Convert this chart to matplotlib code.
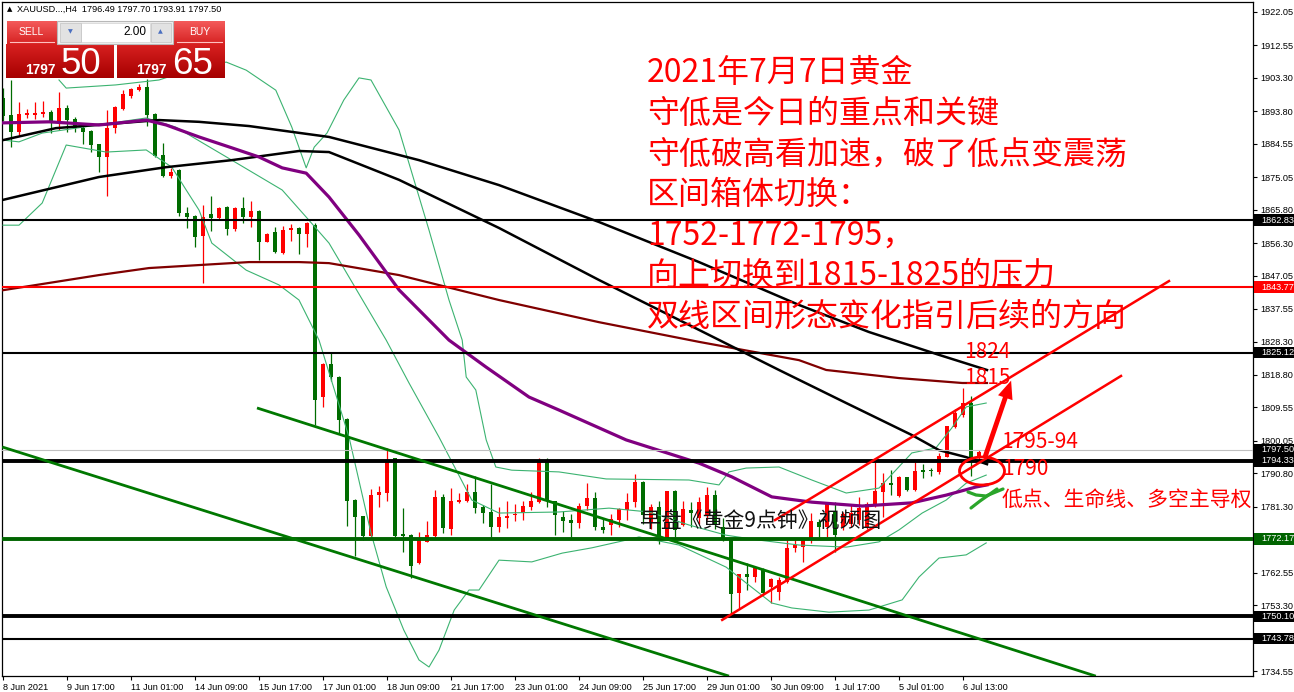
import numpy as np
import matplotlib
matplotlib.use("Agg")
import matplotlib.pyplot as plt
import matplotlib.colors as mcolors
from matplotlib.patches import Rectangle, Ellipse, FancyArrowPatch
from matplotlib.transforms import blended_transform_factory

# ---------------- data (XAUUSD H4) ----------------
opens = [1897.5, 1892.75, 1888.0, 1892.75, 1892.6, 1893.0, 1893.6, 1890.6, 1894.7, 1891.6,
         1889.1, 1888.3, 1884.5, 1880.9, 1889.0, 1894.5, 1898.2, 1899.9, 1900.6, 1893.0,
         1881.4, 1875.4, 1877.1, 1865.0, 1864.0, 1858.4, 1864.5, 1863.4, 1866.7, 1860.4,
         1866.4, 1863.8, 1865.4, 1856.7, 1859.4, 1853.6, 1860.0, 1860.5, 1858.9, 1861.4,
         1812.4, 1821.9, 1818.3, 1806.3, 1783.2, 1778.7, 1773.1, 1784.5, 1785.3, 1795.1,
         1773.3, 1773.3, 1765.4, 1771.4, 1773.1, 1784.2, 1775.0, 1782.7, 1782.8, 1785.5,
         1781.3, 1779.9, 1775.6, 1778.2, 1778.9, 1779.4, 1781.3, 1782.5, 1794.1, 1782.8,
         1778.5, 1777.5, 1776.6, 1781.6, 1783.8, 1775.4, 1776.0, 1777.5, 1780.4, 1782.5,
         1788.4, 1777.0, 1781.3, 1771.9, 1785.8, 1776.1, 1780.4, 1778.0, 1779.0, 1784.5,
         1775.5, 1772.1, 1756.7, 1762.2, 1761.4, 1763.5, 1758.6, 1757.1, 1760.0, 1769.5,
         1769.8, 1771.7, 1777.05, 1775.6, 1779.9, 1775.6, 1776.5, 1777.5, 1775.6, 1781.8,
         1785.6, 1788.0, 1784.4, 1789.7, 1786.1, 1791.8, 1791.8, 1791.3, 1795.5, 1804.1,
         1807.4, 1810.7, 1795.5, 1796.49]
highs = [1900.5, 1902.7, 1896.35, 1894.4, 1896.3, 1896.6, 1894.2, 1899.3, 1895.5, 1892.3,
         1889.6, 1888.4, 1884.6, 1894.2, 1895.3, 1899.9, 1900.5, 1901.5, 1903.0, 1893.2,
         1884.7, 1877.6, 1877.5, 1866.5, 1864.2, 1867.0, 1869.8, 1866.7, 1866.8, 1866.7,
         1869.4, 1868.3, 1865.7, 1859.3, 1861.0, 1861.3, 1861.7, 1860.8, 1862.4, 1862.0,
         1822.1, 1825.0, 1818.5, 1806.4, 1783.4, 1778.8, 1786.3, 1787.2, 1797.9, 1795.2,
         1780.9, 1773.4, 1774.0, 1777.1, 1786.1, 1784.9, 1786.5, 1785.1, 1787.8, 1789.9,
         1781.8, 1787.8, 1781.3, 1783.0, 1782.1, 1783.0, 1785.6, 1795.1, 1795.1, 1783.0,
         1780.2, 1779.2, 1782.3, 1788.0, 1785.4, 1778.0, 1779.2, 1780.9, 1785.1, 1790.6,
         1788.6, 1782.0, 1783.0, 1785.8, 1786.0, 1783.0, 1782.7, 1784.0, 1787.0, 1786.0,
         1778.0, 1772.5, 1762.2, 1765.2, 1764.3, 1763.8, 1760.9, 1761.4, 1771.8, 1771.8,
         1772.3, 1779.4, 1777.7, 1782.7, 1782.7, 1779.9, 1782.0, 1784.0, 1782.7, 1794.1,
         1790.8, 1791.8, 1789.9, 1789.8, 1794.1, 1793.5, 1792.2, 1796.5, 1804.3, 1809.0,
         1815.0, 1812.8, 1797.4, 1797.70]
lows = [1891.0, 1883.7, 1887.1, 1892.0, 1891.5, 1892.3, 1887.5, 1888.5, 1888.0, 1888.0,
        1884.5, 1882.3, 1876.6, 1869.8, 1887.7, 1894.2, 1897.5, 1899.6, 1889.6, 1880.9,
        1875.2, 1874.7, 1864.0, 1860.5, 1855.3, 1845.0, 1859.8, 1863.2, 1858.6, 1859.6,
        1861.9, 1861.0, 1851.5, 1856.5, 1853.4, 1853.1, 1856.9, 1853.1, 1855.1, 1804.5,
        1809.8, 1817.2, 1802.4, 1775.9, 1767.3, 1771.8, 1772.8, 1781.3, 1782.8, 1772.8,
        1768.5, 1760.9, 1765.0, 1771.2, 1772.8, 1773.7, 1773.3, 1782.3, 1782.5, 1779.4,
        1776.6, 1772.8, 1774.2, 1775.2, 1777.1, 1777.5, 1780.4, 1782.3, 1781.3, 1773.3,
        1774.2, 1772.8, 1775.2, 1780.4, 1774.7, 1773.7, 1773.3, 1775.6, 1777.5, 1781.3,
        1776.5, 1775.0, 1770.6, 1771.9, 1772.8, 1775.8, 1775.6, 1776.5, 1777.5, 1775.0,
        1771.5, 1750.4, 1752.4, 1757.6, 1760.0, 1756.2, 1753.8, 1754.8, 1759.5, 1768.5,
        1765.7, 1771.1, 1772.8, 1772.8, 1768.5, 1774.7, 1775.5, 1776.0, 1774.9, 1781.3,
        1778.5, 1784.6, 1784.2, 1785.9, 1785.9, 1789.4, 1790.0, 1790.6, 1795.4, 1803.6,
        1806.9, 1789.9, 1793.6, 1793.91]
closes = [1892.5, 1888.0, 1893.0, 1893.2, 1893.3, 1893.6, 1890.4, 1894.7, 1891.3, 1889.0,
          1887.9, 1884.2, 1880.9, 1889.0, 1895.1, 1898.7, 1900.1, 1900.8, 1892.75, 1881.2,
          1875.4, 1876.5, 1864.8, 1863.8, 1858.1, 1863.8, 1863.4, 1866.4, 1860.4, 1866.4,
          1863.6, 1865.4, 1856.7, 1858.9, 1853.9, 1860.0, 1860.5, 1858.9, 1861.9, 1811.7,
          1821.9, 1818.3, 1806.0, 1783.0, 1778.5, 1773.1, 1784.6, 1785.5, 1794.1, 1773.1,
          1773.1, 1764.5, 1771.7, 1773.3, 1784.2, 1775.2, 1782.9, 1783.2, 1785.6, 1781.0,
          1779.6, 1775.6, 1778.5, 1778.8, 1779.3, 1781.6, 1782.8, 1794.1, 1782.8, 1778.9,
          1777.3, 1776.6, 1781.5, 1783.8, 1775.4, 1774.7, 1777.8, 1780.6, 1782.7, 1788.4,
          1779.0, 1781.3, 1772.8, 1785.8, 1774.7, 1780.6, 1779.6, 1782.5, 1784.5, 1776.5,
          1772.3, 1756.5, 1762.2, 1761.2, 1763.8, 1756.7, 1760.7, 1760.5, 1769.5, 1770.4,
          1771.7, 1777.1, 1775.6, 1782.3, 1773.3, 1779.2, 1779.5, 1781.0, 1782.1, 1785.8,
          1788.1, 1787.5, 1789.7, 1786.1, 1791.5, 1791.3, 1791.5, 1795.7, 1804.3, 1807.9,
          1810.7, 1795.1, 1796.9, 1797.50]

# Bottom axis labels (every 8 bars)
xtick_bars = [0, 8, 16, 24, 32, 40, 48, 56, 64, 72, 80, 88, 96, 104, 112, 120]
xtick_labels = ["8 Jun 2021", "9 Jun 17:00", "11 Jun 01:00", "14 Jun 09:00", "15 Jun 17:00",
                "17 Jun 01:00", "18 Jun 09:00", "21 Jun 17:00", "23 Jun 01:00", "24 Jun 09:00",
                "25 Jun 17:00", "29 Jun 01:00", "30 Jun 09:00", "1 Jul 17:00", "5 Jul 01:00",
                "6 Jul 13:00"]
# Right axis price scale
ytick_vals = [1922.05, 1912.55, 1903.30, 1893.80, 1884.55, 1875.05, 1865.80, 1856.30, 1847.05,
              1837.55, 1828.30, 1818.80, 1809.55, 1800.05, 1790.80, 1781.30, 1762.55, 1753.30,
              1734.55]

# Indicator lines sampled from the chart (bar index, price)
bb_up_x = [7, 7.9, 14.1, 19.5, 23.25, 27.9, 30.4, 34.1, 36.1, 37.9, 38.9, 40.5, 42.6, 44.5, 46,
           49.5, 53.25, 55.75, 57.4, 57.9, 59.1, 60.4, 61.6, 63.6, 69.5, 75.4, 85.75, 89.5,
           90.75, 92.9, 97, 101.1, 105.4, 109.5, 111.6, 113.6, 116.6, 118.6, 120.4, 122.9]
bb_up_y = [1902.7, 1900.4, 1901.3, 1902.7, 1905.5, 1907.8, 1905.5, 1899.8, 1889.3, 1877.7,
           1883.6, 1887.6, 1897.0, 1903.3, 1902.7, 1888.5, 1860.0, 1840.1, 1828.7, 1818.2,
           1814.5, 1800.3, 1792.6, 1791.7, 1791.2, 1789.2, 1788.9, 1787.5, 1791.2, 1792.3,
           1792.6, 1788.9, 1785.2, 1786.6, 1791.7, 1796.6, 1798.0, 1803.7, 1809.7, 1810.8]
bb_mid_x = [0, 2, 4.9, 17.9, 21.6, 28.6, 34.9, 37.9, 40.75, 47.9, 50.75, 54.5, 58.6, 62, 69.5,
            75.75, 80.75, 85.75, 90.4, 94.5, 99.5, 105.4, 109.5, 112, 114.9, 117.9, 120.4, 122.9]
bb_mid_y = [1885.6, 1885.1, 1887.6, 1891.9, 1889.3, 1879.9, 1871.4, 1863.7, 1856.3, 1828.7,
            1816.5, 1801.1, 1783.2, 1779.5, 1779.8, 1780.9, 1779.8, 1776.1, 1773.2, 1771.8,
            1770.4, 1769.8, 1771.3, 1774.7, 1779.5, 1783.2, 1788.0, 1790.3]
bb_low_x = [0, 2, 4.9, 7.9, 12.9, 17.9, 21.1, 22.9, 24.5, 26.1, 30.4, 34.5, 37, 39.5, 43.25, 46,
            47.9, 50.1, 52, 53.25, 54.5, 56.4, 58.25, 59.5, 62, 66.1, 69.9, 73.6, 77.9, 79.5,
            84.5, 90.4, 92.9, 96.1, 98.6, 103.25, 108.25, 112.4, 114.5, 117, 120.4, 122.9]
bb_low_y = [1861.4, 1861.4, 1867.7, 1884.2, 1882.2, 1882.8, 1877.9, 1871.4, 1865.7, 1856.3,
            1848.6, 1844.4, 1840.1, 1828.7, 1801.1, 1773.8, 1758.5, 1746.2, 1737.7, 1735.7,
            1740.5, 1751.9, 1757.6, 1757.6, 1766.1, 1765.6, 1768.1, 1769.6, 1771.8, 1772.7,
            1770.4, 1764.1, 1759.6, 1753.9, 1752.5, 1751.3, 1751.9, 1754.8, 1761.3, 1766.7,
            1767.6, 1771.0]
ma_purple_x = [0, 5.75, 12, 17.9, 20.4, 24.5, 28.6, 32, 34.9, 37.9, 40.75, 44.5, 49.5, 55.75,
               60.4, 65.75, 69.5, 77.9, 87, 91.1, 96.1, 101.1, 107.4, 113.6, 117.9, 121.6, 123]
ma_purple_y = [1890.5, 1890.8, 1889.9, 1891.3, 1889.9, 1886.5, 1883.4, 1880.8, 1877.7, 1876.2,
               1869.4, 1858.6, 1843.0, 1828.7, 1821.0, 1812.5, 1808.8, 1800.3, 1793.7, 1789.8,
               1784.1, 1782.6, 1781.5, 1782.4, 1784.6, 1786.9, 1787.5]
ma_black1_x = [0, 6.6, 19.5, 24.5, 30.75, 40.75, 52, 62, 74.5, 87, 99.5, 108.25, 117, 123]
ma_black1_y = [1885.6, 1889.0, 1891.3, 1890.8, 1889.6, 1886.5, 1879.9, 1872.8, 1862.3, 1850.9,
               1838.7, 1831.0, 1824.5, 1820.2]
ma_black2_x = [0, 12, 20.4, 28.6, 37, 40.75, 49.5, 62, 74.5, 87, 97, 105.4, 113.6, 117, 120.4, 123]
ma_black2_y = [1868.6, 1875.1, 1877.9, 1879.9, 1882.5, 1882.2, 1874.3, 1860.6, 1845.8, 1831.6,
               1820.2, 1810.8, 1801.7, 1797.4, 1795.4, 1793.4]
ma_maroon_x = [0, 12, 18.25, 30.75, 37, 40.75, 49.5, 62, 74.5, 87, 99.5, 102.9, 112, 119.9, 123]
ma_maroon_y = [1842.9, 1847.2, 1849.2, 1850.9, 1850.9, 1850.6, 1847.2, 1840.1, 1833.8, 1828.2,
               1823.0, 1820.2, 1817.9, 1816.5, 1816.5]

# Horizontal levels (price, colour key, width key)
hlevels = [1862.83, 1843.77, 1825.12, 1794.33, 1772.17, 1750.10, 1743.78]
current_price = 1797.50

# Trend lines (anchor bars / prices)
red_up_x, red_up_y = [96.5, 145.75], [1777.5, 1845.5]
red_lo_x, red_lo_y = [89.9, 139.75], [1749.1, 1818.5]
green_a_x, green_a_y = [31.75, 136.6], [1809.4, 1733.1]
green_b_x, green_b_y = [-0.1, 90.75], [1798.3, 1733.1]

text_lines = ["2021年7月7日黄金", "守低是今日的重点和关键", "守低破高看加速，破了低点变震荡",
              "区间箱体切换：", "1752-1772-1795，", "向上切换到1815-1825的压力",
              "双线区间形态变化指引后续的方向"]

# ---------------- drawing ----------------
W, H = 1294, 692
RED = "#ff0000"
GRN = "#006c00"
CJK = ["Noto Sans CJK SC", "DejaVu Sans"]
LIB = ["Liberation Sans", "DejaVu Sans"]

fig = plt.figure(figsize=(W / 100, H / 100), dpi=100)
fig.patch.set_facecolor("white")
ax = fig.add_axes([2 / W, 16 / H, 1251 / W, 674 / H])
ax.set_xlim(-0.125, 156.25)
ax.set_ylim(1733.14, 1924.89)

o = np.array(opens); h = np.array(highs); l = np.array(lows); c = np.array(closes)
idx = np.arange(len(o))
cols = np.where(c >= o, RED, GRN)
ax.vlines(idx, l, h, colors=cols, lw=0.9, zorder=2)
ax.bar(idx, np.maximum(np.abs(c - o), 0.3), bottom=np.minimum(o, c), width=0.62,
       color=cols, lw=0, zorder=2)

bbc = "#3cb371"
for xs, ys in [(bb_up_x, bb_up_y), (bb_mid_x, bb_mid_y), (bb_low_x, bb_low_y)]:
    ax.plot(xs, ys, color=bbc, lw=0.8, zorder=3)
ax.plot(ma_maroon_x, ma_maroon_y, color="#800000", lw=1.6, zorder=3)
ax.plot(ma_black1_x, ma_black1_y, color="black", lw=1.8, zorder=3)
ax.plot(ma_black2_x, ma_black2_y, color="black", lw=1.8, zorder=3)
ax.plot(ma_purple_x, ma_purple_y, color="#800080", lw=2.3, zorder=3)

ax.axhline(current_price, color="#c0c0c0", lw=0.8, zorder=3)
hl_style = {1862.83: ("black", 1.5), 1843.77: ("#ff0000", 1.5), 1825.12: ("black", 1.5),
            1794.33: ("black", 2.8), 1772.17: ("#006400", 2.8), 1750.10: ("black", 2.8),
            1743.78: ("black", 1.5)}
for p in hlevels:
    col, lw = hl_style[p]
    ax.axhline(p, color=col, lw=lw, zorder=4)

ax.plot(green_a_x, green_a_y, color="#007800", lw=2.0, zorder=4, solid_capstyle="butt")
ax.plot(green_b_x, green_b_y, color="#007800", lw=2.0, zorder=4, solid_capstyle="butt")
ax.plot(red_up_x, red_up_y, color=RED, lw=1.8, zorder=4)
ax.plot(red_lo_x, red_lo_y, color=RED, lw=1.8, zorder=4)

# axes styling
for s in ax.spines.values():
    s.set_color("black"); s.set_linewidth(0.9)
ax.yaxis.tick_right()
ax.set_yticks(ytick_vals)
ax.set_yticklabels([f"{v:.2f}" for v in ytick_vals], fontsize=6.6, family=LIB)
ax.tick_params(axis="y", length=3, width=0.8, pad=2.5, direction="out")
ax.set_xticks(xtick_bars)
ax.set_xticklabels(xtick_labels, fontsize=6.6, family=LIB, ha="left")
ax.tick_params(axis="x", length=3, width=0.8, pad=2, direction="out")

# price label boxes on the right axis
btr = blended_transform_factory(ax.transAxes, ax.transData)
box_bg = {1862.83: "black", 1843.77: "#ff0000", 1825.12: "black", 1797.50: "black",
          1794.33: "black", 1772.17: "#006400", 1750.10: "black", 1743.78: "black"}
for p in [1862.83, 1843.77, 1825.12, 1797.50, 1794.33, 1772.17, 1750.10, 1743.78]:
    bh = 11.5 / 3.515
    ax.add_patch(Rectangle((1.0 + 1 / 1251, p - bh / 2), 41 / 1251, bh, transform=btr,
                           facecolor=box_bg[p], edgecolor="none", clip_on=False, zorder=6))
    ax.text(1.0 + 8 / 1251, p, f"{p:.2f}", transform=btr, fontsize=6.6, family=LIB,
            color="white", va="center", ha="left", clip_on=False, zorder=7)

# ---------------- overlay (pixel coordinates) ----------------
ov = fig.add_axes([0, 0, 1, 1], zorder=10)
ov.patch.set_alpha(0)
ov.axis("off")


def grad_rect(x0, y0, x1, y1, ctop, cbot, z=11):
    t = np.array(mcolors.to_rgb(ctop)); b = np.array(mcolors.to_rgb(cbot))
    g = np.linspace(0, 1, 40)[:, None]
    img = (t[None, :] * (1 - g) + b[None, :] * g)[:, None, :]
    ov.imshow(img, extent=[x0, x1, y1, y0], aspect="auto", zorder=z,
              interpolation="bilinear", origin="upper")


# header line
ov.text(7, 9, "▲", fontsize=5, family=["DejaVu Sans"], va="center", ha="left")
ov.text(17, 9, "XAUUSD...,H4  1796.49 1797.70 1793.91 1797.50", fontsize=6.6,
        family=LIB, va="center", ha="left")

# one-click trading panel
grad_rect(7, 21, 57, 44, "#f45a5a", "#d62222")
grad_rect(174, 21, 225, 44, "#f45a5a", "#d62222")
grad_rect(6, 44.5, 114, 78, "#d82020", "#a60000")
grad_rect(117, 44.5, 225, 78, "#d82020", "#a60000")
ov.plot([10, 54], [42.3, 42.3], color="#ffc0c0", lw=0.8, zorder=12)
ov.plot([177, 222], [42.3, 42.3], color="#ffc0c0", lw=0.8, zorder=12)
ov.add_patch(Rectangle((57, 20.5), 116, 23.5, facecolor="#f0f0f0", edgecolor="#b8b8b8",
                       lw=0.8, zorder=11))
ov.add_patch(Rectangle((81, 22.5), 69, 19.5, facecolor="white", edgecolor="#d8d8d8",
                       lw=0.6, zorder=12))
ov.add_patch(Rectangle((59.5, 22.5), 21, 19.5, facecolor="#e2e2e2", edgecolor="#c8c8c8",
                       lw=0.6, zorder=12))
ov.add_patch(Rectangle((150.5, 22.5), 20.5, 19.5, facecolor="#e2e2e2", edgecolor="#c8c8c8",
                       lw=0.6, zorder=12))
ov.text(70, 31.5, "▼", fontsize=4.5, color="#4a6fc0", ha="center", va="center",
        family=["DejaVu Sans"], zorder=13)
ov.text(160.5, 31.5, "▲", fontsize=4.5, color="#4a6fc0", ha="center", va="center",
        family=["DejaVu Sans"], zorder=13)
ov.text(146, 32, "2.00", fontsize=8.5, family=LIB, ha="right", va="center", zorder=13)
ov.text(31, 32, "SELL", fontsize=7.5, family=LIB, color="white", ha="center", va="center",
        zorder=13)
ov.text(199.5, 32, "BUY", fontsize=7.5, family=LIB, color="white", ha="center", va="center",
        zorder=13)
NARROW = ["Liberation Sans Narrow", "Liberation Sans"]
ov.text(56, 73.5, "1797", fontsize=9.8, family=NARROW, weight="bold", color="white",
        ha="right", va="baseline", zorder=13)
ov.text(61, 74.5, "50", fontsize=26.5, family=NARROW, color="white", ha="left",
        va="baseline", zorder=13)
ov.text(167, 73.5, "1797", fontsize=9.8, family=NARROW, weight="bold", color="white",
        ha="right", va="baseline", zorder=13)
ov.text(172, 74.5, "65", fontsize=26.5, family=NARROW, color="white", ha="left",
        va="baseline", zorder=13)

# big red commentary
for i, s in enumerate(text_lines):
    ov.text(647, 73 + 40.6 * i, s, fontsize=23, color=RED, family=CJK, ha="left",
            va="center", zorder=12)

ov.text(964, 352, "1824", fontsize=15, color=RED, family=CJK, ha="left", va="center", zorder=12)
ov.text(964, 378, "1815", fontsize=15, color=RED, family=CJK, ha="left", va="center", zorder=12)
ov.text(1001, 442, "1795-94", fontsize=15, color=RED, family=CJK, ha="left", va="center",
        zorder=12)
ov.text(1002, 469, "1790", fontsize=15, color=RED, family=CJK, ha="left", va="center", zorder=12)
ov.text(1002, 500, "低点、生命线、多空主导权", fontsize=15, color=RED, family=CJK, ha="left",
        va="center", zorder=12)
ov.text(640, 521, "早盘《黄金9点钟》视频图", fontsize=15, color="#111111", family=CJK,
        ha="left", va="center", zorder=12)

ov.add_patch(Ellipse((982, 471), 45, 28, fill=False, edgecolor=RED, lw=2.0, zorder=12))
ov.add_patch(FancyArrowPatch((984, 460), (1012, 378),
                             arrowstyle="simple,head_length=13,head_width=11,tail_width=3.5",
                             mutation_scale=1, color=RED, lw=0, zorder=12))
ov.plot([968, 976, 986, 1003], [492, 495, 496, 489], color="#2aa52a", lw=2.3, zorder=12,
        solid_capstyle="round")
ov.plot([971, 980, 990, 997], [508, 501, 494, 489], color="#2aa52a", lw=2.3, zorder=12,
        solid_capstyle="round")

ov.set_xlim(0, W)
ov.set_ylim(H, 0)

fig.savefig("out.png", dpi=100)
